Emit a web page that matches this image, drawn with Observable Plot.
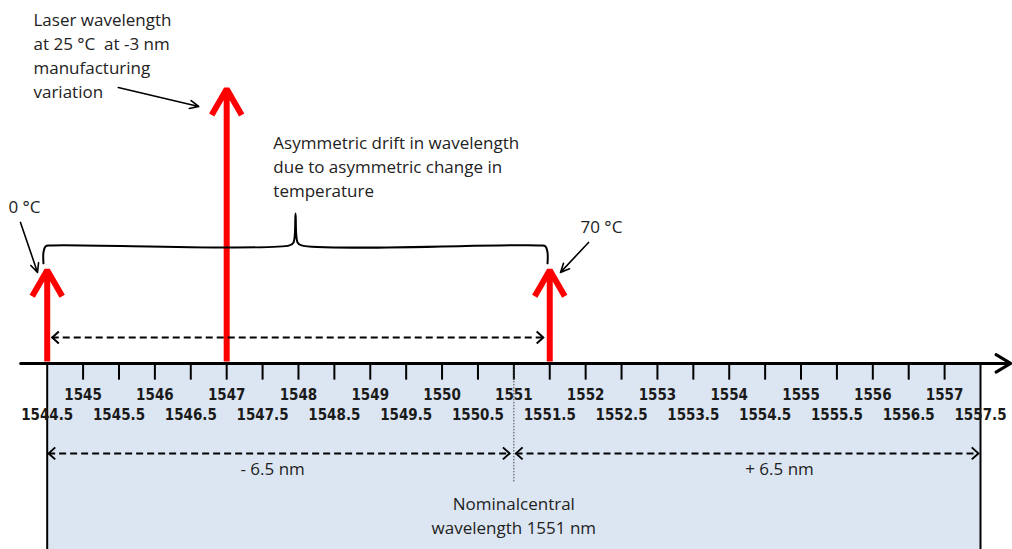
<!DOCTYPE html>
<html><head><meta charset="utf-8">
<script src="https://cdn.jsdelivr.net/npm/d3@7"></script>
<script src="https://cdn.jsdelivr.net/npm/@observablehq/plot@0.6"></script>
<style>body{margin:0;background:#fff}</style>
</head><body><div id="chart"></div>
<script>
// ---- data (wavelength in nm, vertical position in relative units) ----
const intLabels = [1545, 1546, 1547, 1548, 1549, 1550, 1551, 1552, 1553, 1554, 1555, 1556, 1557];
const halfLabels = [1544.5, 1545.5, 1546.5, 1547.5, 1548.5, 1549.5, 1550.5, 1551.5, 1552.5, 1553.5, 1554.5, 1555.5, 1556.5, 1557.5];
const tickMarks = [1545, 1545.5, 1546, 1546.5, 1547, 1547.5, 1548, 1548.5, 1549, 1549.5, 1550, 1550.5, 1551, 1551.5, 1552, 1552.5, 1553, 1553.5, 1554, 1554.5, 1555, 1555.5, 1556, 1556.5, 1557];
const bandEdges = [1544.5, 1557.5];
const nominal = 1551;
const laserWavelengths = [1544.5, 1547, 1551.5];   // 0 °C, 25 °C, 70 °C
const laserHeights = [1, 2.95, 1];
const axisExtent = [1544.13, 1557.92];

// annotation layout (in data units)
const bracketX = [1544.448, 1544.448, 1544.476, 1544.546, 1547.875, 1547.931, 1547.959, 1547.987, 1548.042, 1551.371, 1551.441, 1551.469, 1551.469];
const bracketY = [1.075, 1.193, 1.257, 1.268, 1.268, 1.300, 1.612, 1.300, 1.268, 1.268, 1.257, 1.193, 1.075];
const dashedSpans = [
  {x1: 1544.57, x2: 1551.41, y: 0.279},
  {x1: 1544.52, x2: 1550.94, y: -0.967},
  {x1: 1551.03, x2: 1557.47, y: -0.967}
];
const pointerArrows = [
  {x1: 1545.49, y1: 2.965, x2: 1546.61, y2: 2.761},
  {x1: 1544.128, y1: 1.515, x2: 1544.365, y2: 0.978},
  {x1: 1552.04, y1: 1.300, x2: 1551.65, y2: 0.978}
];
const leftNotes = [
  {x: 1544.309, y: 3.325, text: "Laser wavelength\nat 25 °C  at -3 nm\nmanufacturing\nvariation"},
  {x: 1547.65, y: 2.127, text: "Asymmetric drift in wavelength\ndue to asymmetric change in\ntemperature"},
  {x: 1543.96, y: 1.697, text: "0 °C"}
];
const centerNotes = [
  {x: 1552.22, y: 1.483, text: "70 °C"},
  {x: 1547.64, y: -1.117, text: "- 6.5 nm"},
  {x: 1554.70, y: -1.117, text: "+ 6.5 nm"},
  {x: 1551.0, y: -1.622, text: "Nominalcentral\nwavelength 1551 nm"}
];

// ---- build ----
const redData = laserWavelengths.map((w, i) => ({w, h: laserHeights[i]}));
const heads = dashedSpans.flatMap(s => [{x: s.x1, y: s.y, rot: 180}, {x: s.x2, y: s.y, rot: 0}]);
const bracket = bracketX.map((x, i) => ({x, y: bracketY[i]}));
const chevron = {
  draw(ctx, size) {
    const r = Math.sqrt(size / Math.PI);
    ctx.moveTo(-r * 1.1, -r);
    ctx.lineTo(0, 0);
    ctx.lineTo(-r * 1.1, r);
  }
};
const annFont = "'Open Sans', 'Noto Sans', sans-serif";
const tickFont = "'DejaVu Sans Condensed', 'DejaVu Sans', sans-serif";
const annStyle = {fontFamily: annFont, fontSize: 17, lineHeight: 1.41, fill: "#222"};

const chart = Plot.plot({
  width: 1012,
  height: 549,
  x: {domain: [1544.5, 1557.5], range: [46.7, 980], axis: null},
  y: {domain: [-2, 3.9], range: [549, 0], axis: null},
  style: {background: "white", overflow: "visible"},
  marks: [
    Plot.rect([0], {x1: () => bandEdges[0], x2: () => bandEdges[1], y1: () => -2.2, y2: () => 0, fill: "#dce6f2"}),
    Plot.ruleX(bandEdges, {x: d => d, y1: () => -2.2, y2: () => 0, stroke: "black", strokeWidth: 2}),
    Plot.ruleX(tickMarks, {x: d => d, y1: () => 0, y2: () => -0.18, stroke: "black", strokeWidth: 2}),
    Plot.ruleX([nominal], {x: d => d, y1: () => 0, y2: () => -1.29, stroke: "#444", strokeWidth: 1, strokeDasharray: "1.5,1.5"}),
    Plot.text(intLabels, {x: d => d, y: () => -0.344, text: d => String(d), fontFamily: tickFont, fontWeight: "bold", fontSize: 15, fill: "#1a1a1a"}),
    Plot.text(halfLabels, {x: d => d, y: () => -0.559, text: d => String(d), fontFamily: tickFont, fontWeight: "bold", fontSize: 15, fill: "#1a1a1a"}),
    Plot.arrow(redData, {x1: "w", x2: "w", y1: () => 0.02, y2: "h", stroke: "#ff0000", strokeWidth: 6, headLength: 7.5, headAngle: 60, strokeLinejoin: "miter", strokeLinecap: "butt"}),
    Plot.arrow([0], {x1: () => axisExtent[0], x2: () => axisExtent[1], y1: () => 0, y2: () => 0, stroke: "black", strokeWidth: 3, headLength: 8.5, headAngle: 62}),
    Plot.line(bracket, {x: "x", y: "y", stroke: "black", strokeWidth: 2, curve: "catmull-rom"}),
    Plot.ruleY(dashedSpans, {y: "y", x1: "x1", x2: "x2", stroke: "black", strokeWidth: 2, strokeDasharray: "7,4"}),
    Plot.dot(heads, {x: "x", y: "y", rotate: "rot", symbol: chevron, r: 6, fill: "none", stroke: "black", strokeWidth: 2}),
    Plot.arrow(pointerArrows, {x1: "x1", y1: "y1", x2: "x2", y2: "y2", stroke: "black", strokeWidth: 1.6, headLength: 9, headAngle: 50}),
    Plot.text(leftNotes, {x: "x", y: "y", text: "text", textAnchor: "start", ...annStyle}),
    Plot.text(centerNotes, {x: "x", y: "y", text: "text", textAnchor: "middle", ...annStyle})
  ]
});
document.getElementById("chart").appendChild(chart);
</script>
</body></html>
